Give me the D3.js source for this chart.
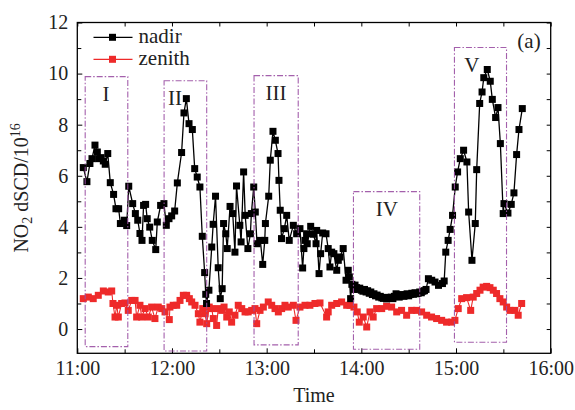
<!DOCTYPE html>
<html>
<head>
<meta charset="utf-8">
<script src="https://cdn.jsdelivr.net/npm/d3@7"></script>
<style>
  body { margin: 0; background: #fff; }
  svg { display: block; }
  text { font-family: "Liberation Serif", "Times New Roman", serif; fill: #222; }
</style>
</head>
<body>
<svg id="chart" width="575" height="410"></svg>
<script>
// Minutes after 11:00 and NO2 differential slant column densities (10^16 molec/cm^2)
const nadirMinutes = [
  3.8, 6.1, 8.0, 9.3, 11.2, 12.7, 13.5, 15.0, 16.5, 17.7, 19.3, 20.9, 23.0, 24.5, 26.2, 27.3, 29.8, 31.3,
  32.6, 35.1, 36.8, 38.3, 39.7, 41.0, 42.0, 43.3, 44.3, 45.9, 47.5, 49.7, 50.7, 52.8, 54.9, 56.4, 58.1,
  59.8, 61.7, 63.4, 66.1, 67.6, 69.1, 70.8, 72.9, 74.4, 76.0, 77.7, 79.2, 80.7, 81.4, 81.9, 83.4, 85.2,
  86.1, 87.6, 89.3, 90.6, 91.8, 92.7, 94.1, 95.0, 96.8, 98.5, 99.9, 100.9, 103.0, 103.8, 105.4, 106.4,
  108.1, 109.7, 110.3, 111.8, 112.8, 113.9, 116.0, 117.5, 118.8, 119.2, 121.3, 122.3, 124.0, 125.5,
  127.2, 127.8, 128.6, 129.4, 131.2, 132.7, 134.3, 136.9, 139.0, 141.1, 142.8, 143.6, 144.3, 145.3,
  145.7, 147.9, 149.6, 151.3, 151.7, 153.2, 154.2, 155.5, 157.6, 159.0, 160.1, 161.2, 162.6, 164.4,
  165.4, 166.5, 168.5, 170.3, 171.7, 172.4, 173.2,
  174, 175, 176, 177, 178, 179, 180, 181, 182, 183, 184, 185, 186, 187, 188, 189, 190, 191, 192, 193,
  194, 195, 196, 197, 198, 199, 200, 201, 202, 203, 204, 205, 206, 207, 208, 209, 210, 211, 212, 213,
  214, 215, 216, 217, 218, 219, 220, 221,
  222.5, 224.6, 226.7, 228.9, 231.4, 232.5, 233.5, 235.0, 236.3, 237.8, 239.5, 241.0, 242.7, 244.8,
  246.9, 248.0, 250.1, 252.2, 253.1, 255.0, 256.5, 257.6, 259.8, 261.7, 263.0, 265.1, 266.6, 268.1,
  269.9, 270.4, 272.9, 275.0, 276.7, 278.4, 279.9, 282.0
];
const nadirValues = [
  6.32, 5.77, 6.48, 6.67, 7.20, 6.93, 6.67, 6.71, 6.58, 6.45, 6.87, 5.73, 5.27, 4.71, 4.71, 4.13, 4.26, 4.05,
  5.59, 4.91, 4.52, 4.26, 3.74, 3.47, 4.84, 4.88, 4.32, 3.99, 3.47, 3.11, 4.19, 4.84, 4.91, 4.06, 4.32,
  4.43, 4.62, 5.72, 6.91, 8.46, 9.02, 8.04, 7.81, 6.28, 5.95, 5.56, 3.63, 2.21, 1.36, 1.00, 1.52, 3.21,
  4.10, 5.20, 2.40, 1.19, 1.58, 4.13, 3.73, 3.15, 4.80, 4.52, 3.01, 5.60, 4.06, 3.41, 6.15, 4.45,
  3.15, 3.73, 4.52, 5.56, 4.58, 3.34, 3.47, 2.53, 3.47, 4.13, 5.20, 6.61, 7.74, 7.39,
  6.87, 5.82, 4.65, 3.54, 3.93, 4.45, 3.47, 4.06, 3.73, 3.93, 2.39, 3.15, 3.47, 3.73,
  3.34, 4.02, 3.71, 3.34, 3.86, 2.17, 2.95, 3.76, 3.73, 3.15, 2.43, 3.01, 2.95, 2.30,
  2.69, 2.82, 3.15, 1.91, 2.30, 2.04, 1.19,
  1.75, 1.55, 1.72, 1.62, 1.55, 1.60, 1.52, 1.48, 1.55, 1.45, 1.50, 1.40, 1.45, 1.35, 1.38, 1.30, 1.33, 1.25, 1.28, 1.22,
  1.20, 1.24, 1.18, 1.22, 1.20, 1.25, 1.19, 1.28, 1.38, 1.30, 1.25, 1.30, 1.35, 1.28, 1.33, 1.38, 1.30, 1.35, 1.40, 1.36,
  1.42, 1.38, 1.40, 1.45, 1.42, 1.48, 1.50, 1.55,
  1.97, 1.91, 1.84, 1.71, 1.78, 1.88, 3.01, 3.47, 3.90, 4.45, 5.56, 6.15, 6.67, 7.00,
  6.54, 4.58, 2.69, 4.13, 6.24, 8.83, 9.28, 9.84, 10.16, 9.70, 8.99, 8.28, 8.67, 7.26,
  4.52, 4.91, 4.54, 4.88, 5.33, 6.83, 7.81, 8.63
];

const zenithMinutes = [
  3.8, 7.0, 10.1, 13.3, 16.5, 19.6, 21.8, 22.6, 23.9, 25.0, 26.0, 28.1, 30.2, 32.3, 34.5, 36.6, 37.6,
  39.7, 40.8, 42.9, 45.0, 47.1, 49.2, 51.3, 53.5, 55.6, 58.3, 58.7, 60.8, 63.0, 65.1, 67.2, 69.3, 71.0,
  72.5, 74.6, 76.7, 77.7, 79.5, 80.9, 82.0, 83.6, 85.2, 86.2, 88.3, 89.3, 91.5, 93.0, 94.7, 96.3, 97.8,
  99.9, 102.0, 104.2, 106.3, 108.3, 110.5, 112.6, 113.7, 115.8, 117.9, 121.0, 123.2, 125.3, 127.4,
  129.5, 131.6, 133.7, 136.9, 138.6, 141.1, 144.3, 147.4, 150.6, 153.8, 158.0, 159.0, 161.2, 164.4,
  167.5, 170.7, 172.8, 175.3, 177.4, 178.7, 181.2, 183.4, 185.5, 187.5, 189.7, 192.9, 196.0, 199.2,
  202.4, 205.5, 208.7, 211.9, 215.0, 218.2, 221.4, 224.5, 227.7, 230.9, 234.0, 237.2, 239.3, 241.4,
  243.6, 246.7, 249.3, 250.9, 253.1, 255.2, 257.2, 259.4, 261.5, 263.6, 265.7, 267.8, 269.9, 272.1,
  274.2, 277.3, 279.4, 281.6
];
const zenithValues = [
  1.19, 1.25, 1.19, 1.32, 1.49, 1.45, 1.49, 1.00, 0.47, 0.93, 0.47, 1.00, 1.02, 0.73, 1.12, 1.12, 0.47,
  0.93, 0.47, 0.80, 0.47, 0.86, 0.41, 0.86, 0.80, 0.67, 0.37, 0.86, 0.93, 0.93, 1.12, 1.32, 1.32, 1.19,
  1.06, 0.93, 0.60, 0.27, 0.80, 0.60, 0.21, 0.86, 0.80, 0.41, 0.14, 0.80, 0.73, 0.86, 0.47, 0.67, 0.27,
  0.54, 0.93, 0.80, 0.67, 0.67, 0.73, 0.80, 0.21, 0.73, 0.86, 1.06, 0.93, 0.80, 0.67,
  0.80, 0.93, 0.86, 0.93, 0.34, 0.86, 0.93, 0.93, 1.00, 1.02, 0.47, 0.67, 0.93, 1.00,
  1.06, 0.93, 0.93, 0.86, 0.67, 0.27, 0.47, 0.08, 0.67, 0.47, 0.80, 0.80, 0.89, 0.86,
  0.67, 0.73, 0.54, 0.73, 0.73, 0.67, 0.54, 0.47, 0.41, 0.34, 0.27, 0.27, 0.34, 0.80,
  1.19, 1.23, 0.73, 1.25, 1.39, 1.52, 1.64, 1.67, 1.62, 1.52, 1.39, 1.19, 1.06, 0.86,
  0.73, 0.73, 0.54, 1.00
];

// Highlighted episodes (dash-dot boxes), times in minutes after 11:00
const regionLabels = ["I", "II", "III", "IV", "V"];
const regionStart = [5, 55, 112, 175, 239];
const regionEnd = [32, 82, 140, 217, 272];
const regionTop = [9.88, 9.72, 9.92, 5.38, 11.02];
const regionBottom = [-0.69, -0.86, -0.62, -0.79, -0.52];
const regionLabelMinute = [18.2, 61.9, 125.9, 196.2, 250.1];

const xTickLabels = ["11:00", "12:00", "13:00", "14:00", "15:00", "16:00"];
const yTickValues = [0, 2, 4, 6, 8, 10, 12];
const yMinorValues = [1, 3, 5, 7, 9, 11];
const seriesNames = ["nadir", "zenith"];
const seriesColors = ["#000000", "#ee2a2a"];

// ---------------------------------------------------------------------------
const svg = d3.select("#chart");
const plot = { left: 77.3, right: 550.7, top: 22.5, bottom: 353.3 };

const base = new Date(2000, 0, 1, 11, 0);
const toTime = m => new Date(base.getTime() + m * 60000);
const parseHM = s => { const [h, m] = s.split(":"); return new Date(2000, 0, 1, +h, +m); };

const x = d3.scaleTime().domain([parseHM(xTickLabels[0]), parseHM(xTickLabels[xTickLabels.length - 1])])
  .range([plot.left, plot.right]);
const y = d3.scaleLinear().domain([-0.95, 12]).range([plot.bottom, plot.top]);

const hourTicks = xTickLabels.map(parseHM);
const halfTicks = d3.timeMinute.every(30).range(x.domain()[0], x.domain()[1]).filter(d => d.getMinutes() === 30);

const fontSize = 20;

function clean(g) { g.select(".domain").remove(); g.selectAll("line").attr("stroke", "#000").attr("stroke-width", 1); }

// bottom axis with labels
svg.append("g").attr("transform", `translate(0,${plot.bottom})`)
  .call(d3.axisBottom(x).tickValues(hourTicks).tickFormat(d3.timeFormat("%H:%M"))
    .tickSizeInner(-5).tickSizeOuter(0).tickPadding(8))
  .call(clean)
  .call(g => g.selectAll("text").attr("font-size", fontSize).attr("font-family", null));
svg.append("g").attr("transform", `translate(0,${plot.bottom})`)
  .call(d3.axisBottom(x).tickValues(halfTicks).tickFormat("").tickSizeInner(-4).tickSizeOuter(0))
  .call(clean);
// top axis, ticks only
svg.append("g").attr("transform", `translate(0,${plot.top})`)
  .call(d3.axisTop(x).tickValues(hourTicks.concat(halfTicks)).tickFormat("").tickSizeInner(-4).tickSizeOuter(0))
  .call(clean);
// left axis with labels
svg.append("g").attr("transform", `translate(${plot.left},0)`)
  .call(d3.axisLeft(y).tickValues(yTickValues).tickFormat(d3.format("d"))
    .tickSizeInner(-5).tickSizeOuter(0).tickPadding(9))
  .call(clean)
  .call(g => g.selectAll("text").attr("font-size", fontSize).attr("font-family", null));
svg.append("g").attr("transform", `translate(${plot.left},0)`)
  .call(d3.axisLeft(y).tickValues(yMinorValues).tickFormat("").tickSizeInner(-4).tickSizeOuter(0))
  .call(clean);
// right axis, ticks only
svg.append("g").attr("transform", `translate(${plot.right},0)`)
  .call(d3.axisRight(y).tickValues(yTickValues.concat(yMinorValues)).tickFormat("")
    .tickSizeInner(-4).tickSizeOuter(0))
  .call(clean);

// frame
svg.append("rect")
  .attr("x", plot.left).attr("y", plot.top)
  .attr("width", plot.right - plot.left).attr("height", plot.bottom - plot.top)
  .attr("fill", "none").attr("stroke", "#000").attr("stroke-width", 1.3);

// series
const markerSize = 7;
function drawSeries(minutes, values, color, lw) {
  const pts = minutes.map((m, i) => [toTime(m), values[i]]);
  const g = svg.append("g");
  g.append("path").datum(pts)
    .attr("d", d3.line().x(d => x(d[0])).y(d => y(d[1])))
    .attr("fill", "none").attr("stroke", color).attr("stroke-width", lw).attr("stroke-linejoin", "round");
  g.selectAll("rect").data(pts).join("rect")
    .attr("x", d => x(d[0]) - markerSize / 2).attr("y", d => y(d[1]) - markerSize / 2)
    .attr("width", markerSize).attr("height", markerSize).attr("fill", color);
}
drawSeries(zenithMinutes, zenithValues, seriesColors[1], 1.1);
drawSeries(nadirMinutes, nadirValues, seriesColors[0], 1.3);

// episode boxes and labels
const boxG = svg.append("g");
regionLabels.forEach((lab, i) => {
  const x0 = x(toTime(regionStart[i])), x1 = x(toTime(regionEnd[i]));
  const y0 = y(regionTop[i]), y1 = y(regionBottom[i]);
  boxG.append("rect")
    .attr("x", x0).attr("y", y0).attr("width", x1 - x0).attr("height", y1 - y0)
    .attr("fill", "none").attr("stroke", "#9a4fa3").attr("stroke-width", 1.1)
    .attr("stroke-dasharray", "6,2,1.5,2").attr("opacity", 0.9);
  boxG.append("text")
    .attr("x", x(toTime(regionLabelMinute[i]))).attr("y", y0 + 24)
    .attr("text-anchor", "middle").attr("font-size", fontSize + 1).text(lab);
});

// panel tag
svg.append("text").attr("x", 529).attr("y", 48).attr("text-anchor", "middle")
  .attr("font-size", fontSize + 1).text("(a)");

// legend
const legend = svg.append("g");
seriesNames.forEach((name, i) => {
  const ly = 37.3 + i * 22;
  legend.append("line").attr("x1", 93.5).attr("x2", 132.5).attr("y1", ly).attr("y2", ly)
    .attr("stroke", seriesColors[i]).attr("stroke-width", 1.3);
  legend.append("rect").attr("x", 112.5 - markerSize / 2).attr("y", ly - markerSize / 2)
    .attr("width", markerSize).attr("height", markerSize).attr("fill", seriesColors[i]);
  legend.append("text").attr("x", 138.5).attr("y", ly + 6).attr("font-size", fontSize + 1).text(name);
});

// axis titles
svg.append("text").attr("x", (plot.left + plot.right) / 2).attr("y", 402)
  .attr("text-anchor", "middle").attr("font-size", fontSize).text("Time");

const yTitle = svg.append("text")
  .attr("transform", `translate(28,${(plot.top + plot.bottom) / 2}) rotate(-90)`)
  .attr("text-anchor", "middle").attr("font-size", fontSize);
yTitle.append("tspan").text("NO");
yTitle.append("tspan").attr("font-size", 14).attr("dy", 4).text("2");
yTitle.append("tspan").attr("dy", -4).text(" dSCD/10");
yTitle.append("tspan").attr("font-size", 14).attr("dy", -8).text("16");
</script>
</body>
</html>
